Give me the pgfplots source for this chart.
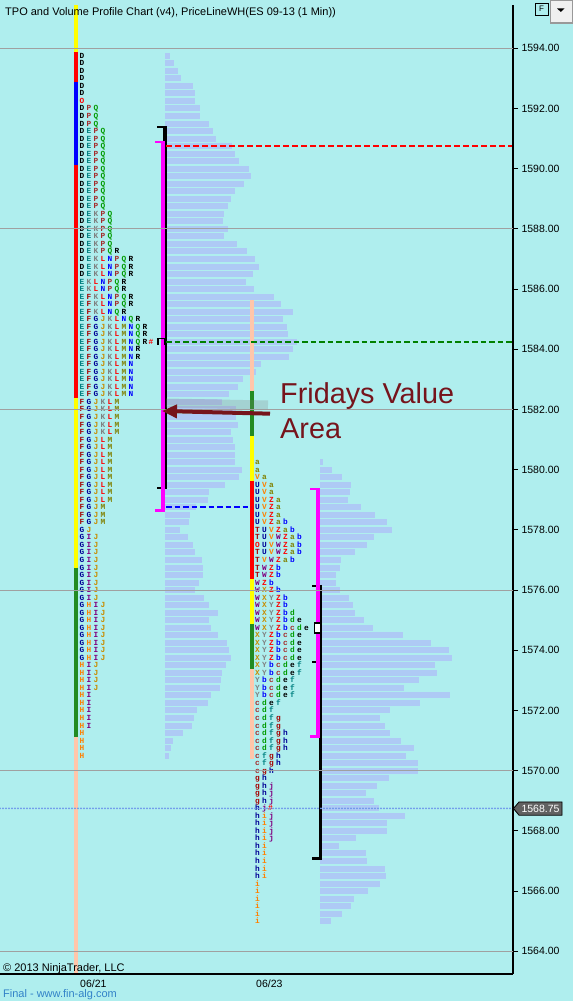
\documentclass[border=0pt]{standalone}
\usepackage{pgfplots}
\pgfplotsset{compat=1.18}
\usepackage{pgfplotstable}
\usepackage{fontspec}
\setmainfont{Liberation Sans}
\newfontfamily\tpofont{Liberation Mono}
\usetikzlibrary{arrows.meta}

\definecolor{bgc}{RGB}{175,238,238}
\definecolor{volblue}{RGB}{174,202,245}
\definecolor{peach}{RGB}{255,198,170}
\definecolor{fgreen}{RGB}{34,139,34}
\definecolor{maroonA}{RGB}{118,20,28}
\definecolor{gridgray}{RGB}{160,160,160}
\definecolor{dotblue}{RGB}{110,150,235}
\definecolor{finblue}{RGB}{50,130,200}
\definecolor{magA}{RGB}{255,0,255}
\definecolor{yelA}{RGB}{255,255,0}
\definecolor{redA}{RGB}{255,0,0}
\definecolor{bluA}{RGB}{0,0,255}
\definecolor{dgreen}{RGB}{0,128,0}

% TPO letter colours (13 colour cycle)
\definecolor{tpoD}{RGB}{0,0,0}
\definecolor{tpoE}{RGB}{0,128,128}
\definecolor{tpoF}{RGB}{165,0,0}
\definecolor{tpoG}{RGB}{0,0,150}
\definecolor{tpoH}{RGB}{255,128,0}
\definecolor{tpoI}{RGB}{128,0,128}
\definecolor{tpoJ}{RGB}{200,140,0}
\definecolor{tpoK}{RGB}{128,128,128}
\definecolor{tpoL}{RGB}{255,0,0}
\definecolor{tpoM}{RGB}{128,128,0}
\definecolor{tpoN}{RGB}{0,0,255}
\definecolor{tpoO}{RGB}{255,0,0}
\definecolor{tpoP}{RGB}{165,42,42}
\definecolor{tpoQ}{RGB}{0,155,0}
\definecolor{tpoR}{RGB}{0,0,0}
\definecolor{tpoT}{RGB}{165,0,0}
\definecolor{tpoU}{RGB}{0,0,150}
\definecolor{tpoV}{RGB}{255,128,0}
\definecolor{tpoW}{RGB}{128,0,128}
\definecolor{tpoX}{RGB}{200,140,0}
\definecolor{tpoY}{RGB}{128,128,128}
\definecolor{tpoZ}{RGB}{255,0,0}
\definecolor{tpoa}{RGB}{128,128,0}
\definecolor{tpob}{RGB}{0,0,255}
\definecolor{tpoc}{RGB}{165,42,42}
\definecolor{tpod}{RGB}{0,155,0}
\definecolor{tpoe}{RGB}{0,0,0}
\definecolor{tpof}{RGB}{0,128,128}
\definecolor{tpog}{RGB}{165,0,0}
\definecolor{tpoh}{RGB}{0,0,150}
\definecolor{tpoi}{RGB}{255,128,0}
\definecolor{tpoj}{RGB}{128,0,128}

\makeatletter
\newcommand\tporow[1]{\@tfor\tpoch:=#1\do{\makebox[7pt]{\textcolor{tpo\tpoch}{\tpoch}}}}
\makeatother
\tikzset{tpo/.style={anchor=west, inner sep=0pt, font=\tpofont\bfseries\fontsize{7.8}{8}\selectfont, text height=5pt, text depth=0pt}}
\newcommand\tpoA[2]{\node[tpo] at (axis cs:78.3,{1593.75-0.25*#1}) {\tporow{#2}};}
\newcommand\tpoB[2]{\node[tpo] at (axis cs:253.8,{1580.25-0.25*#1}) {\tporow{#2}};}

% volume profile 06/21: row index, right end of bar
\pgfplotstableread{
k r
0 170
1 174
2 178
3 181
4 193
5 195
6 195
7 200
8 200
9 209
10 213
11 216
12 232
13 235
14 239
15 249
16 251
17 244
18 235
19 231
20 228
21 224
22 223
23 228
24 224
25 237
26 247
27 255
28 259
29 253
30 246
31 254
32 274
33 281
34 293
35 283
36 287
37 288
38 297
39 293
40 289
41 261
42 256
43 243
44 238
45 229
46 222
47 236
48 236
49 238
50 231
51 233
52 235
53 235
54 235
55 242
56 239
57 225
58 209
59 208
60 196
61 190
62 189
63 180
64 188
65 193
66 195
67 202
68 203
69 203
70 199
71 195
72 204
73 209
74 218
75 209
76 211
77 218
78 227
79 229
80 231
81 226
82 222
83 221
84 220
85 211
86 208
87 197
88 194
89 192
90 183
91 173
92 171
93 169
}\volA

% volume profile 06/23
\pgfplotstableread{
k r
0 323
1 332
2 342
3 351
4 350
5 348
6 361
7 375
8 387
9 392
10 374
11 367
12 355
13 341
14 340
15 336
16 336
17 340
18 349
19 353
20 355
21 364
22 373
23 403
24 431
25 449
26 452
27 435
28 437
29 419
30 404
31 450
32 420
33 390
34 380
35 385
36 390
37 401
38 414
39 406
40 418
41 418
42 389
43 377
44 366
45 374
46 379
47 405
48 387
49 387
50 356
51 339
52 366
53 367
54 385
55 386
56 380
57 368
58 354
59 351
60 342
61 331
}\volB

\begin{document}
\begin{tikzpicture}[x=1pt,y=1pt]
\useasboundingbox (0,0) rectangle (573,1001);
\fill[bgc] (0,0) rectangle (573,1001);

\begin{axis}[
  at={(0pt,27pt)}, anchor=south west,
  scale only axis, width=513pt, height=969pt,
  xmin=0, xmax=513, ymin=1563.246, ymax=1595.4385,
  axis x line=bottom, axis y line=right,
  axis line style={-, black, line width=1.2pt},
  xtick=\empty,
  ytick={1564,1566,...,1594},
  tick align=outside, major tick length=5pt,
  ytick style={black, line width=1pt},
  yticklabel style={font=\fontsize{10.5}{12}\selectfont,
    /pgf/number format/.cd, fixed, fixed zerofill, precision=2, 1000 sep={}, assume math mode=true},
  extra y ticks={1564,1570,1576,1582,1588,1594},
  extra y tick labels={},
  extra y tick style={grid=major, major tick length=0pt},
  major grid style={gridgray, line width=0.9pt},
  axis on top,
]

% volume bars
\addplot[draw=none, mark=none, error bars/.cd, x dir=plus, x explicit, error mark=none,
  error bar style={line width=6pt, draw=volblue}]
  table[x expr=165, y expr={1593.75-0.25*\thisrow{k}}, x error expr={\thisrow{r}-165}] {\volA};
\addplot[draw=none, mark=none, error bars/.cd, x dir=plus, x explicit, error mark=none,
  error bar style={line width=6pt, draw=volblue}]
  table[x expr=320, y expr={1580.25-0.25*\thisrow{k}}, x error expr={\thisrow{r}-320}] {\volB};

% period colour bars
\addplot[yelA, line width=4pt] coordinates {(76,1595.44) (76,1593.875)};
\addplot[redA, line width=4pt] coordinates {(76,1593.875) (76,1592.875)};
\addplot[bluA, line width=4pt] coordinates {(76,1592.875) (76,1590.125)};
\addplot[redA, line width=4pt] coordinates {(76,1590.125) (76,1582.375)};
\addplot[yelA, line width=4pt] coordinates {(76,1582.375) (76,1576.75)};
\addplot[fgreen, line width=4pt] coordinates {(76,1576.75) (76,1571.125)};
\addplot[peach, line width=4pt] coordinates {(76,1571.125) (76,1563.2)};

\addplot[peach, line width=4pt] coordinates {(252,1585.625) (252,1582.625)};
\addplot[fgreen, line width=4pt] coordinates {(252,1582.625) (252,1581.125)};
\addplot[yelA, line width=4pt] coordinates {(252,1581.125) (252,1579.625)};
\addplot[redA, line width=4pt] coordinates {(252,1579.625) (252,1576.375)};
\addplot[yelA, line width=4pt] coordinates {(252,1576.375) (252,1574.875)};
\addplot[fgreen, line width=4pt] coordinates {(252,1574.875) (252,1573.375)};
\addplot[peach, line width=4pt] coordinates {(252,1573.375) (252,1570.375)};

% value area brackets, 06/21
\addplot[black, line width=3.4pt] coordinates {(165,1591.41) (165,1579.36)};
\addplot[black, line width=2pt] coordinates {(157,1591.38) (166.7,1591.38)};
\addplot[black, line width=2pt] coordinates {(157,1579.39) (166.7,1579.39)};
\addplot[magA, line width=4pt] coordinates {(163,1590.91) (163,1578.62)};
\addplot[magA, line width=2.2pt] coordinates {(155,1590.88) (165,1590.88)};
\addplot[magA, line width=2.5pt] coordinates {(155,1578.65) (165,1578.65)};
\draw[black, line width=1.8pt] (axis cs:158,1584.15) -- (axis cs:158,1584.36) -- (axis cs:164.5,1584.36) -- (axis cs:164.5,1584.15);

% value area brackets, 06/23
\addplot[black, line width=3pt] coordinates {(320.8,1576.17) (320.8,1567.05)};
\addplot[black, line width=2pt] coordinates {(312,1576.14) (320,1576.14)};
\addplot[black, line width=2pt] coordinates {(312,1573.61) (320,1573.61)};
\addplot[black, line width=2.5pt] coordinates {(312,1567.08) (322,1567.08)};
\addplot[magA, line width=4pt] coordinates {(318,1579.39) (318,1571.08)};
\addplot[magA, line width=2.2pt] coordinates {(310,1579.36) (320,1579.36)};
\addplot[magA, line width=2.5pt] coordinates {(310,1571.14) (320,1571.14)};
\draw[black, line width=1.8pt, fill=white] (axis cs:314.5,1574.58) rectangle (axis cs:320.5,1574.9);

% TPO letters 06/21
\tpoA{0}{D}\tpoA{1}{D}\tpoA{2}{D}\tpoA{3}{D}\tpoA{4}{D}\tpoA{5}{D}\tpoA{6}{O}
\tpoA{7}{DPQ}\tpoA{8}{DPQ}\tpoA{9}{DPQ}
\tpoA{10}{DEPQ}\tpoA{11}{DEPQ}\tpoA{12}{DEPQ}\tpoA{13}{DEPQ}\tpoA{14}{DEPQ}
\tpoA{15}{DEPQ}\tpoA{16}{DEPQ}\tpoA{17}{DEPQ}\tpoA{18}{DEPQ}\tpoA{19}{DEPQ}\tpoA{20}{DEPQ}
\tpoA{21}{DEKPQ}\tpoA{22}{DEKPQ}\tpoA{23}{DEKPQ}\tpoA{24}{DEKPQ}\tpoA{25}{DEKPQ}
\tpoA{26}{DEKPQR}\tpoA{27}{DEKLNPQR}\tpoA{28}{DEKLNPQR}\tpoA{29}{DEKLNPQR}
\tpoA{30}{EKLNPQR}\tpoA{31}{EKLNPQR}\tpoA{32}{EFKLNPQR}\tpoA{33}{EFKLNPQR}
\tpoA{34}{EFKLNQR}\tpoA{35}{EFGJKLNQR}\tpoA{36}{EFGJKLMNQR}\tpoA{37}{EFGJKLMNQR}
\tpoA{38}{EFGJKLMNQR}\tpoA{39}{EFGJKLMNR}\tpoA{40}{EFGJKLMNR}
\tpoA{41}{EFGJKLMN}\tpoA{42}{EFGJKLMN}\tpoA{43}{EFGJKLMN}\tpoA{44}{EFGJKLMN}\tpoA{45}{EFGJKLMN}
\tpoA{46}{FGJKLM}\tpoA{47}{FGJKLM}\tpoA{48}{FGJKLM}\tpoA{49}{FGJKLM}\tpoA{50}{FGJKLM}
\tpoA{51}{FGJLM}\tpoA{52}{FGJLM}\tpoA{53}{FGJLM}\tpoA{54}{FGJLM}\tpoA{55}{FGJLM}
\tpoA{56}{FGJLM}\tpoA{57}{FGJLM}\tpoA{58}{FGJLM}\tpoA{59}{FGJLM}
\tpoA{60}{FGJM}\tpoA{61}{FGJM}\tpoA{62}{FGJM}\tpoA{63}{GJ}
\tpoA{64}{GIJ}\tpoA{65}{GIJ}\tpoA{66}{GIJ}\tpoA{67}{GIJ}\tpoA{68}{GIJ}
\tpoA{69}{GIJ}\tpoA{70}{GIJ}\tpoA{71}{GIJ}\tpoA{72}{GIJ}
\tpoA{73}{GHIJ}\tpoA{74}{GHIJ}\tpoA{75}{GHIJ}\tpoA{76}{GHIJ}
\tpoA{77}{GHIJ}\tpoA{78}{GHIJ}\tpoA{79}{GHIJ}\tpoA{80}{GHIJ}
\tpoA{81}{HIJ}\tpoA{82}{HIJ}\tpoA{83}{HIJ}\tpoA{84}{HIJ}
\tpoA{85}{HI}\tpoA{86}{HI}\tpoA{87}{HI}\tpoA{88}{HI}\tpoA{89}{HI}
\tpoA{90}{H}\tpoA{91}{H}\tpoA{92}{H}\tpoA{93}{H}
\node[tpo, text=red] at (axis cs:148.3,1584.25) {\#};

% TPO letters 06/23
\tpoB{0}{a}\tpoB{1}{a}\tpoB{2}{Va}\tpoB{3}{UVa}\tpoB{4}{UVa}
\tpoB{5}{UVZa}\tpoB{6}{UVZa}\tpoB{7}{UVZa}\tpoB{8}{UVZab}\tpoB{9}{TUVZab}
\tpoB{10}{TUVWZab}\tpoB{11}{OUVWZab}\tpoB{12}{TUVWZab}\tpoB{13}{TVWZab}
\tpoB{14}{TWZb}\tpoB{15}{TWZb}\tpoB{16}{WZb}\tpoB{17}{WXZb}
\tpoB{18}{WXYZb}\tpoB{19}{WXYZb}\tpoB{20}{WXYZbd}\tpoB{21}{WXYZbde}\tpoB{22}{WXYZbcde}
\tpoB{23}{XYZbcde}\tpoB{24}{XYZbcde}\tpoB{25}{XYZbcde}\tpoB{26}{XYZbcde}
\tpoB{27}{XYbcdef}\tpoB{28}{XYbcdef}\tpoB{29}{Ybcdef}\tpoB{30}{Ybcdef}\tpoB{31}{Ybcdef}
\tpoB{32}{cdef}\tpoB{33}{cdf}\tpoB{34}{cdfg}\tpoB{35}{cdfg}
\tpoB{36}{cdfgh}\tpoB{37}{cdfgh}\tpoB{38}{cdfgh}\tpoB{39}{cfgh}\tpoB{40}{cfgh}
\tpoB{41}{cgh}\tpoB{42}{gh}\tpoB{43}{ghj}\tpoB{44}{ghj}\tpoB{45}{ghj}\tpoB{46}{hj}
\tpoB{47}{hij}\tpoB{48}{hij}\tpoB{49}{hij}\tpoB{50}{hij}
\tpoB{51}{hi}\tpoB{52}{hi}\tpoB{53}{hi}\tpoB{54}{hi}\tpoB{55}{hi}
\tpoB{56}{i}\tpoB{57}{i}\tpoB{58}{i}\tpoB{59}{i}\tpoB{60}{i}\tpoB{61}{i}
\node[tpo, text=red] at (axis cs:267.8,1568.75) {\#};

% reference levels
\addplot[redA, line width=2pt, dash pattern=on 6pt off 3pt] coordinates {(166,1590.75) (513,1590.75)};
\addplot[dgreen, line width=2pt, dash pattern=on 5.5pt off 3pt] coordinates {(166,1584.25) (513,1584.25)};
\addplot[bluA, line width=2pt, dash pattern=on 5.5pt off 3pt] coordinates {(166,1578.75) (251,1578.75)};
\addplot[dotblue, line width=2pt, line cap=round, dash pattern=on 0pt off 3pt] coordinates {(0,1568.75) (513,1568.75)};
\end{axis}

% annotation
\draw[gray, opacity=0.25, line width=9pt] (268,596) -- (166,598);
\draw[maroonA, line width=4pt, -{Triangle[length=15pt,width=13pt]}] (270,587.3) -- (162,590);
\node[anchor=base west, inner sep=0pt, text=maroonA, font=\fontsize{28.8}{30}\selectfont] at (280,597) {Fridays Value};
\node[anchor=base west, inner sep=0pt, text=maroonA, font=\fontsize{28.8}{30}\selectfont] at (280,562) {Area};

% title and footer
\node[anchor=base west, inner sep=0pt, font=\fontsize{11}{13}\selectfont] at (5,985) {TPO and Volume Profile Chart (v4), PriceLineWH(ES 09-13 (1 Min))};
\node[anchor=base west, inner sep=0pt, font=\fontsize{11}{13}\selectfont] at (3,29.5) {© 2013 NinjaTrader, LLC};
\node[anchor=base west, inner sep=0pt, font=\fontsize{10.5}{12}\selectfont] at (80,13) {06/21};
\node[anchor=base west, inner sep=0pt, font=\fontsize{10.5}{12}\selectfont] at (256,13) {06/23};
\node[anchor=base west, inner sep=0pt, text=finblue, font=\fontsize{11}{13}\selectfont] at (3,4) {Final - www.fin-alg.com};

% last price marker
\draw[black, line width=0.8pt, fill=black!62] (513.5,192.5) -- (519,199) -- (562,199) -- (562,185.8) -- (519,185.8) -- cycle;
\node[text=white, inner sep=0pt, font=\fontsize{10.5}{12}\selectfont] at (540.5,192.4) {1568.75};

% panel buttons
\draw[black, line width=0.8pt] (535,998) rectangle (548,986);
\node[inner sep=0pt, font=\fontsize{8}{9}\selectfont] at (541.5,992) {F};
\draw[gray!80, line width=1.2pt, fill=black!6] (550.5,1000.5) rectangle (572.5,978);
\fill[black] (557,992.7) -- (564.5,992.7) -- (560.75,989) -- cycle;
\end{tikzpicture}
\end{document}
